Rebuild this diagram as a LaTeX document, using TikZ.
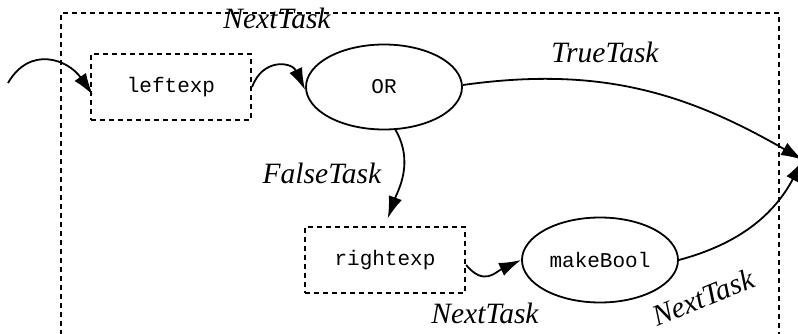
\documentclass[tikz,border=0pt]{standalone}
\usepackage{fontspec}
\setmainfont{Liberation Serif}
\setmonofont{Liberation Mono}
\usetikzlibrary{arrows.meta,shapes.geometric}
\begin{document}
\begin{tikzpicture}[x=1pt, y=1pt,
	expr/.style={
	rectangle, minimum width=160pt, minimum height=66pt,
	line width=2.2pt, dash pattern=on 5pt off 4pt,
	font=\fontsize{21}{24}\selectfont\ttfamily},
	task/.style={
	ellipse, minimum width=156pt, minimum height=85pt,
	line width=1.8pt,
	font=\fontsize{21}{24}\selectfont\ttfamily},
	lbl/.style={font=\fontsize{29.5}{34}\selectfont\itshape},
	flow/.style={draw, -{Latex[length=22pt, width=14pt]}, line width=1.8pt}]
	\useasboundingbox (0,0) rectangle (798,333);
	\draw[line width=2.2pt, dash pattern=on 5pt off 4pt] (61,-20) rectangle (779,320);
	\coordinate (start) at (8,250);
	\coordinate (done) at (803,173);
	\node[expr, draw] (left) at (171,246) {leftexp};
	\node[task, draw] (or) at (384,246) {OR};
	\node[expr, draw] (right) at (385,73) {rightexp};
	\node[task, draw] (make) at (600,73) {makeBool};
	\node[lbl] (next1) at (277,315) {NextTask};
	\node[lbl] (true) at (605,281) {TrueTask};
	\node[lbl] (false) at (322,160) {FalseTask};
	\node[lbl] (next2) at (485,20) {NextTask};
	\node[lbl, rotate=22] (next3) at (703,36) {NextTask};
	\path
				(start) edge [flow, out=60, in=125, looseness=1.3] ([xshift=3pt, yshift=-8pt]left.west)
				(left.east) edge [flow, out=70, in=115, looseness=1.5] ([yshift=-3pt]or.west)
				([yshift=2pt]or.east) edge [flow, out=8, in=150] (done)
				(or.285) edge [flow, out=-60, in=70, shorten >=8pt] (right.north)
				([yshift=-5pt]right.east) edge [flow, out=-50, in=205, looseness=1.3] (make.west)
				(make.east) edge [flow, out=15, in=-118] (done);
\end{tikzpicture}
\end{document}
